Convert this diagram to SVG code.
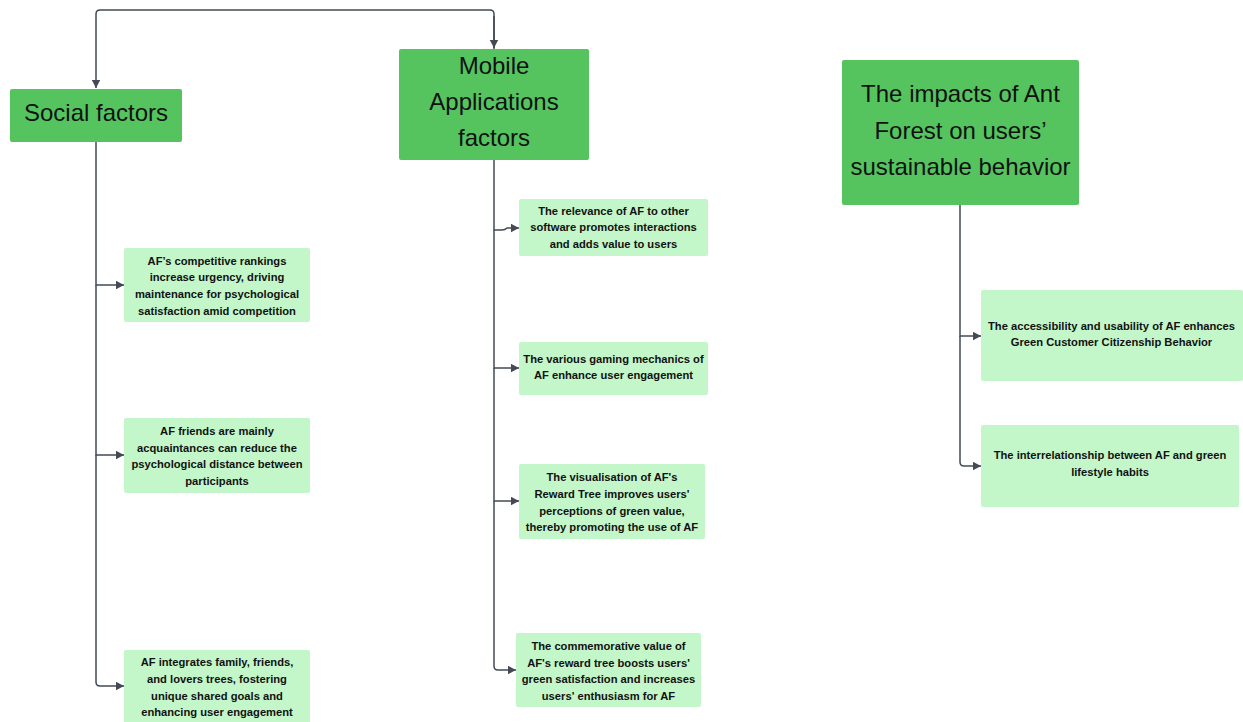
<svg xmlns="http://www.w3.org/2000/svg" width="1243" height="722" viewBox="0 0 1243 722">
<defs>
<marker id="arr" markerUnits="userSpaceOnUse" markerWidth="10" markerHeight="10" refX="8.5" refY="4.5" orient="auto">
<path d="M0,0 L8.5,4.5 L0,9 z" fill="#434955"/>
</marker>
<style>
.hdr{fill:#55c45f;}
.chd{fill:#c3f6c8;}
.ht{font-family:"Liberation Sans",Arial,sans-serif;font-size:24px;fill:#111;text-anchor:middle;}
.ct{font-family:"Liberation Sans",Arial,sans-serif;font-size:11.2px;font-weight:bold;fill:#111;text-anchor:middle;}
.cn{fill:none;stroke:#434955;stroke-width:1.5;marker-end:url(#arr);}
</style>
</defs>
<rect width="1243" height="722" fill="#ffffff"/>
<g id="connectors">
<path class="cn" d="M494,49 L494,14 Q494,10 490,10 L100,10 Q96,10 96,14 L96,88"/>
<path class="cn" d="M494,16 L494,48"/>
<path class="cn" d="M96,142 L96,285 L124,285"/>
<path class="cn" d="M96,285 L96,455 L124,455"/>
<path class="cn" d="M96,455 L96,682 Q96,686 100,686 L124,686"/>
<path class="cn" d="M494,160 L494,230 L502,230 Q505,230 507,228 L519,228"/>
<path class="cn" d="M494,230 L494,368 L519,368"/>
<path class="cn" d="M494,368 L494,501 L519,501"/>
<path class="cn" d="M494,501 L494,666 Q494,670 498,670 L516,670"/>
<path class="cn" d="M960,205 L960,336 L981,336"/>
<path class="cn" d="M960,336 L960,462 Q960,466 964,466 L981,466"/>
</g>
<g id="social">
<rect class="hdr" x="10" y="89" width="172" height="53" rx="2"/>
<text class="ht" x="96" y="121">Social factors</text>
</g>
<g id="mobile">
<rect class="hdr" x="399" y="49" width="190" height="111" rx="2"/>
<text class="ht" x="494" y="73.5">Mobile</text>
<text class="ht" x="494" y="110">Applications</text>
<text class="ht" x="494" y="145.5">factors</text>
</g>
<g id="impacts">
<rect class="hdr" x="842" y="60" width="237" height="145" rx="2"/>
<text class="ht" x="960.5" y="102">The impacts of Ant</text>
<text class="ht" x="960.5" y="138.5">Forest on users’</text>
<text class="ht" x="960.5" y="174.5">sustainable behavior</text>
</g>
<g id="s1">
<rect class="chd" x="124" y="248" width="186" height="74" rx="2"/>
<text class="ct" x="217" y="264.5">AF’s competitive rankings</text>
<text class="ct" x="217" y="281.2">increase urgency, driving</text>
<text class="ct" x="217" y="298">maintenance for psychological</text>
<text class="ct" x="217" y="314.7">satisfaction amid competition</text>
</g>
<g id="s2">
<rect class="chd" x="124" y="418" width="186" height="75" rx="2"/>
<text class="ct" x="217" y="435">AF friends are mainly</text>
<text class="ct" x="217" y="451.7">acquaintances can reduce the</text>
<text class="ct" x="217" y="468.3">psychological distance between</text>
<text class="ct" x="217" y="485">participants</text>
</g>
<g id="s3">
<rect class="chd" x="124" y="650" width="186" height="80" rx="2"/>
<text class="ct" x="217" y="666.3">AF integrates family, friends,</text>
<text class="ct" x="217" y="683">and lovers trees, fostering</text>
<text class="ct" x="217" y="699.7">unique shared goals and</text>
<text class="ct" x="217" y="716.3">enhancing user engagement</text>
</g>
<g id="m1">
<rect class="chd" x="519" y="199" width="189" height="57" rx="2"/>
<text class="ct" x="613.5" y="214.7">The relevance of AF to other</text>
<text class="ct" x="613.5" y="231.3">software promotes interactions</text>
<text class="ct" x="613.5" y="248">and adds value to users</text>
</g>
<g id="m2">
<rect class="chd" x="519" y="342" width="189" height="53" rx="2"/>
<text class="ct" x="613.5" y="363">The various gaming mechanics of</text>
<text class="ct" x="613.5" y="379.3">AF enhance user engagement</text>
</g>
<g id="m3">
<rect class="chd" x="519" y="464" width="186" height="75" rx="2"/>
<text class="ct" x="612" y="481">The visualisation of AF's</text>
<text class="ct" x="612" y="498">Reward Tree improves users'</text>
<text class="ct" x="612" y="514.7">perceptions of green value,</text>
<text class="ct" x="612" y="531.3">thereby promoting the use of AF</text>
</g>
<g id="m4">
<rect class="chd" x="516" y="633" width="185" height="74" rx="2"/>
<text class="ct" x="608.5" y="650">The commemorative value of</text>
<text class="ct" x="608.5" y="666.7">AF's reward tree boosts users'</text>
<text class="ct" x="608.5" y="683">green satisfaction and increases</text>
<text class="ct" x="608.5" y="699.7">users' enthusiasm for AF</text>
</g>
<g id="i1">
<rect class="chd" x="981" y="290" width="262" height="91" rx="2"/>
<text class="ct" x="1111.5" y="329.7">The accessibility and usability of AF enhances</text>
<text class="ct" x="1111.5" y="346.3">Green Customer Citizenship Behavior</text>
</g>
<g id="i2">
<rect class="chd" x="981" y="425" width="258" height="82" rx="2"/>
<text class="ct" x="1110" y="459.3">The interrelationship between AF and green</text>
<text class="ct" x="1110" y="476.3">lifestyle habits</text>
</g>
</svg>
